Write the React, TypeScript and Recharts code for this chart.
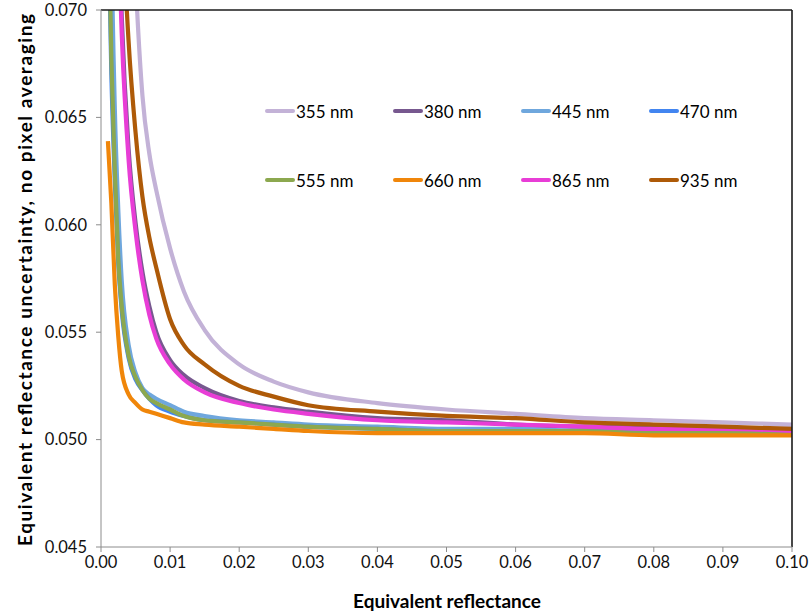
import React from "react"
import {
    LineChart,
    Line,
    XAxis,
    YAxis,
    ReferenceLine,
} from "recharts"

const X_VALUES = [
    0.001, 0.0015, 0.002, 0.0025, 0.003, 0.004, 0.005, 0.006, 0.007, 0.008,
    0.01, 0.012, 0.015, 0.02, 0.025, 0.03, 0.04, 0.05, 0.06, 0.07, 0.08, 0.09, 0.1,
]

const NM355 = [0.194, 0.144, 0.119, 0.103, 0.093, 0.08, 0.0715, 0.066, 0.0633, 0.0616, 0.0589, 0.0569, 0.0551, 0.0535, 0.0527, 0.0522, 0.0517, 0.0514, 0.0512, 0.051, 0.0509, 0.0508, 0.0507]
const NM380 = [0.12, 0.095, 0.0825, 0.0748, 0.0697, 0.0635, 0.0601, 0.0578, 0.0562, 0.055, 0.0537, 0.053, 0.0524, 0.0518, 0.0515, 0.0513, 0.051, 0.0509, 0.0507, 0.0506, 0.0506, 0.0505, 0.0505]
const NM445 = [0.09, 0.0736, 0.0654, 0.0607, 0.0574, 0.0544, 0.0531, 0.0524, 0.0521, 0.0519, 0.0516, 0.0513, 0.0511, 0.0509, 0.0508, 0.0507, 0.0506, 0.0505, 0.0505, 0.0504, 0.0504, 0.0504, 0.0503]
const NM470 = [0.075, 0.067, 0.062, 0.0582, 0.056, 0.0538, 0.0528, 0.0523, 0.0519, 0.0516, 0.0513, 0.0511, 0.0509, 0.0508, 0.0507, 0.0506, 0.0505, 0.0504, 0.0504, 0.0504, 0.0503, 0.0503, 0.0503]
const NM555 = [0.076, 0.0677, 0.0625, 0.0584, 0.0562, 0.0539, 0.0529, 0.0523, 0.0519, 0.0517, 0.0514, 0.0511, 0.0509, 0.0508, 0.0507, 0.0506, 0.0505, 0.0504, 0.0504, 0.0504, 0.0503, 0.0503, 0.0503]
const NM660 = [0.0639, 0.061, 0.0572, 0.0548, 0.0532, 0.0521, 0.0517, 0.0514, 0.0513, 0.0512, 0.051, 0.0508, 0.0507, 0.0506, 0.0505, 0.0504, 0.0503, 0.0503, 0.0503, 0.0503, 0.0502, 0.0502, 0.0502]
const NM865 = [0.117, 0.0933, 0.0811, 0.0737, 0.0689, 0.063, 0.0597, 0.0574, 0.0558, 0.0547, 0.0535, 0.0528, 0.0522, 0.0517, 0.0514, 0.0512, 0.0509, 0.0508, 0.0507, 0.0506, 0.0505, 0.0505, 0.0504]
const NM935 = [0.13, 0.103, 0.0894, 0.081, 0.0753, 0.0685, 0.0643, 0.0613, 0.0594, 0.058, 0.0556, 0.0544, 0.0535, 0.0525, 0.052, 0.0516, 0.0513, 0.0511, 0.051, 0.0508, 0.0507, 0.0506, 0.0505]

const X_TICKS = [0, 0.01, 0.02, 0.03, 0.04, 0.05, 0.06, 0.07, 0.08, 0.09, 0.1]
const Y_TICKS = [0.045, 0.05, 0.055, 0.06, 0.065, 0.07]

const SERIES = [
    { key: "nm355", name: "355 nm", color: "#C3B2D7", values: NM355 },
    { key: "nm380", name: "380 nm", color: "#77588F", values: NM380 },
    { key: "nm445", name: "445 nm", color: "#6FA7DD", values: NM445 },
    { key: "nm470", name: "470 nm", color: "#4285F0", values: NM470 },
    { key: "nm555", name: "555 nm", color: "#8CA84F", values: NM555 },
    { key: "nm660", name: "660 nm", color: "#F0860A", values: NM660 },
    { key: "nm865", name: "865 nm", color: "#E83DD6", values: NM865 },
    { key: "nm935", name: "935 nm", color: "#AE5A08", values: NM935 },
]

const data = X_VALUES.map((x, i) => {
    const row: Record<string, number> = { x }
    SERIES.forEach((s) => {
        row[s.key] = s.values[i]
    })
    return row
})

const FONT = "Lato, 'Open Sans', sans-serif"
const AXIS_GREY = "#8c8c8c"

function LegendBox() {
    return (
        <div
            style={{
                position: "absolute",
                left: 265,
                top: 100,
                display: "grid",
                gridTemplateColumns: "repeat(4, 128px)",
                rowGap: 47,
                fontFamily: FONT,
                fontSize: 17,
                color: "#000",
            }}
        >
            {SERIES.map((s) => (
                <div
                    key={s.key}
                    style={{ display: "flex", alignItems: "center", height: 22 }}
                >
                    <span
                        style={{
                            display: "inline-block",
                            width: 30,
                            height: 4.5,
                            borderRadius: 2,
                            background: s.color,
                            marginRight: 1,
                        }}
                    />
                    <span>{s.name}</span>
                </div>
            ))}
        </div>
    )
}

export default function App() {
    return (
        <div
            style={{
                position: "absolute",
                left: 0,
                top: 0,
                width: 810,
                height: 615,
                background: "#fff",
            }}
        >
            <LineChart
                width={810}
                height={615}
                data={data}
                margin={{ top: 10, right: 18, left: 0, bottom: 0 }}
                style={{ fontFamily: FONT }}
            >
                <XAxis
                    dataKey="x"
                    type="number"
                    domain={[0, 0.1]}
                    ticks={X_TICKS}
                    tickFormatter={(v: number) => v.toFixed(2)}
                    height={68}
                    tickSize={5}
                    tickMargin={4}
                    stroke={AXIS_GREY}
                    tick={{ fill: "#111", fontSize: 16.5 }}
                    label={{
                        content: () => (
                            <text
                                x={447}
                                y={600}
                                textAnchor="middle"
                                dominantBaseline="central"
                                fontFamily={FONT}
                                fontWeight="bold"
                                fontSize={19}
                                fill="#000"
                            >
                                Equivalent reflectance
                            </text>
                        ),
                    }}
                />
                <YAxis
                    type="number"
                    domain={[0.045, 0.07]}
                    ticks={Y_TICKS}
                    allowDataOverflow
                    tickFormatter={(v: number) => v.toFixed(3)}
                    width={101}
                    tickSize={5}
                    tickMargin={9}
                    stroke={AXIS_GREY}
                    tick={{ fill: "#111", fontSize: 16.5 }}
                    label={{
                        content: () => (
                            <text
                                x={24}
                                y={280}
                                transform="rotate(-90 24 280)"
                                textAnchor="middle"
                                dominantBaseline="central"
                                fontFamily={FONT}
                                fontWeight="bold"
                                fontSize={19}
                                textLength={532}
                                lengthAdjust="spacing"
                                fill="#000"
                            >
                                Equivalent reflectance uncertainty, no pixel averaging
                            </text>
                        ),
                    }}
                />
                {SERIES.map((s) => (
                    <Line
                        key={s.key}
                        dataKey={s.key}
                        name={s.name}
                        type="monotone"
                        stroke={s.color}
                        strokeWidth={4.2}
                        dot={false}
                        activeDot={false}
                        isAnimationActive={false}
                    />
                ))}
                <ReferenceLine y={0.07} stroke="#1a1a1a" strokeWidth={1.6} />
                <ReferenceLine x={0.1} stroke="#1a1a1a" strokeWidth={1.6} />
            </LineChart>
            <LegendBox />
        </div>
    )
}
